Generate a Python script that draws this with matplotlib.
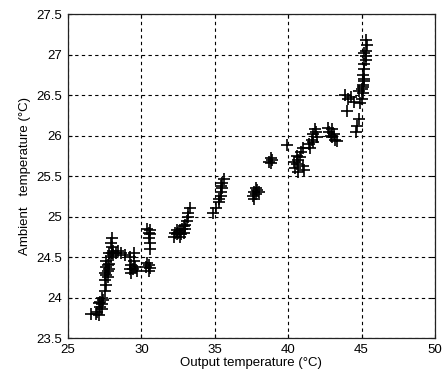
import matplotlib.pyplot as plt

# output temperature (x) vs ambient temperature (y)
out_temp = [
    26.6, 26.9, 27.1, 27.0,
    27.2, 27.3, 27.2, 27.4, 27.3, 27.1, 27.3,
    27.5, 27.6, 27.5, 27.6, 27.7, 27.6, 27.7, 27.8, 27.5, 27.8, 27.7, 27.6,
    27.9, 28.0, 28.0, 27.9, 28.0, 28.1, 27.8, 28.1,
    28.3, 28.6, 28.9, 28.4,
    29.2, 29.3, 29.4, 29.5, 29.3, 29.6, 29.5, 29.2, 29.7,
    30.3, 30.5, 30.4, 30.6, 30.5,
    30.6, 30.6, 30.5, 30.5, 30.6, 30.4, 30.6,
    32.2, 32.4, 32.5, 32.6, 32.7, 32.8, 32.9, 32.4, 32.6, 32.3, 33.0, 33.1,
    33.2, 33.2, 33.3, 33.0, 32.9,
    34.9, 35.1, 35.3, 35.4, 35.4, 35.5, 35.5, 35.6, 35.4, 35.3,
    37.6, 37.7, 37.8, 37.9, 37.7, 38.0, 37.8,
    38.7, 38.8, 38.9, 38.8,
    39.9,
    40.5, 40.6, 40.7, 40.8, 40.6, 40.9, 40.4, 41.0, 41.1, 41.0, 40.7,
    41.4, 41.6, 41.7, 41.8, 41.9, 41.5, 42.0, 41.7,
    42.8, 42.9, 43.0, 43.2, 43.1, 43.3, 42.7, 43.0,
    43.9, 44.1, 44.0, 44.5, 44.3,
    44.6, 44.7, 44.8, 44.8,
    44.9, 45.0, 45.1, 45.0, 45.1, 45.2, 45.1, 45.2, 45.2, 45.3, 45.3, 45.2,
    45.3, 45.4, 45.3, 45.2, 45.1,
]
amb_temp = [
    23.80, 23.80, 23.78, 23.82,
    23.88, 23.92, 23.95, 23.97, 24.00, 23.93, 23.86,
    24.08, 24.15, 24.22, 24.28, 24.33, 24.38, 24.40, 24.42, 24.30, 24.35, 24.25, 24.45,
    24.50, 24.55, 24.62, 24.68, 24.73, 24.58, 24.55, 24.52,
    24.55, 24.55, 24.53, 24.57,
    24.50, 24.40, 24.35, 24.45, 24.30, 24.38, 24.55, 24.35, 24.33,
    24.38, 24.40, 24.43, 24.37, 24.33,
    24.60, 24.67, 24.73, 24.80, 24.83, 24.85, 24.78,
    24.75, 24.78, 24.80, 24.82, 24.78, 24.85, 24.88, 24.83, 24.75, 24.80, 24.90, 24.95,
    25.00, 25.05, 25.10, 24.85, 24.80,
    25.05, 25.10, 25.18, 25.25, 25.30, 25.35, 25.42, 25.47, 25.38, 25.22,
    25.25, 25.30, 25.28, 25.33, 25.22, 25.30, 25.35,
    25.68, 25.72, 25.70, 25.66,
    25.88,
    25.60, 25.65, 25.70, 25.73, 25.75, 25.80, 25.68, 25.62, 25.58, 25.85, 25.55,
    25.90, 25.95, 26.02, 26.08, 26.05, 25.85, 25.98, 25.92,
    26.05, 26.00, 25.98, 25.95, 26.02, 25.93, 26.10, 26.08,
    26.50, 26.45, 26.30, 26.42, 26.48,
    26.05, 26.12, 26.20, 26.55,
    26.40, 26.45, 26.52, 26.58, 26.62, 26.68, 26.75, 26.82, 26.88, 26.93, 26.98, 27.02,
    27.05, 27.12, 27.18, 26.70, 26.60,
]

x_ticks = [25, 30, 35, 40, 45, 50]
y_ticks = [23.5, 24, 24.5, 25, 25.5, 26, 26.5, 27, 27.5]
y_labels = ['23.5', '24', '24.5', '25', '25.5', '26', '26.5', '27', '27.5']

plt.rcParams['font.family'] = ['Liberation Sans', 'DejaVu Sans']

fig = plt.figure(figsize=(4.47, 3.82), dpi=100)
ax = fig.add_axes([0.152, 0.115, 0.821, 0.848])

ax.plot(out_temp, amb_temp, ls='none', marker='+', color='k',
        markersize=8, markeredgewidth=1.2)

ax.set_xlim(25, 50)
ax.set_ylim(23.5, 27.5)
ax.set_xticks(x_ticks)
ax.set_yticks(y_ticks)
ax.set_yticklabels(y_labels)
ax.grid(True, color='k', ls=(0, (3, 3)), lw=0.8)
ax.tick_params(direction='in', top=True, right=True, length=3, pad=4,
               labelsize=9.5)
for s in ax.spines.values():
    s.set_linewidth(0.9)
    s.set_color('#222222')

ax.set_xlabel('Output temperature (°C)', fontsize=9.5, labelpad=1)
ax.set_ylabel('Ambient   temperature (°C)', fontsize=9.5, labelpad=4)

fig.savefig('out.png', dpi=100)
